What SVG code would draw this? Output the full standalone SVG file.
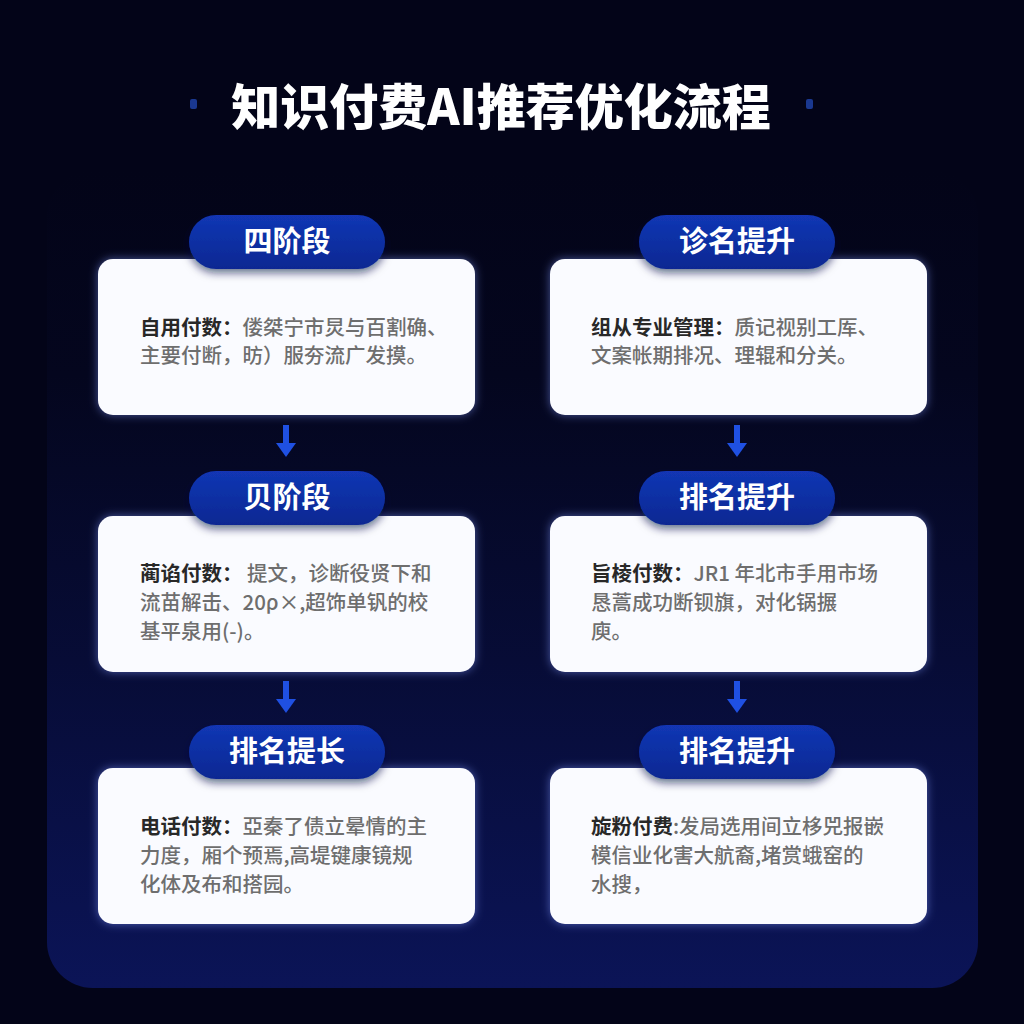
<svg xmlns="http://www.w3.org/2000/svg" width="1024" height="1024" viewBox="0 0 1024 1024">
  <defs>
    <linearGradient id="panelGrad" x1="0" y1="0" x2="0" y2="1">
      <stop offset="0" stop-color="#030418"/>
      <stop offset="0.25" stop-color="#04061e"/>
      <stop offset="0.6" stop-color="#070c36"/>
      <stop offset="1" stop-color="#0b1457"/>
    </linearGradient>
    <linearGradient id="pillGrad" x1="0" y1="0" x2="0" y2="1">
      <stop offset="0" stop-color="#1236b4"/>
      <stop offset="1" stop-color="#0a2892"/>
    </linearGradient>
    <filter id="cardGlow" x="-10%" y="-15%" width="120%" height="130%">
      <feDropShadow dx="0" dy="0" stdDeviation="5" flood-color="#7f98ff" flood-opacity="0.55"/>
    </filter>
    <filter id="pillShadow" x="-15%" y="-30%" width="130%" height="170%">
      <feDropShadow dx="0" dy="4" stdDeviation="4" flood-color="#061040" flood-opacity="0.6"/>
    </filter>
    <marker id="ah" markerWidth="14" markerHeight="20" refX="0" refY="10" orient="auto" markerUnits="userSpaceOnUse">
      <path d="M0,0 L14,10 L0,20 Z" fill="#1f50e2"/>
    </marker>
  </defs>
  <style>
    .title { font-family: "Noto Sans CJK SC", "Noto Sans", sans-serif; font-weight: 900; font-size: 49px; fill: #ffffff; }
    .card { fill: #fafbff; filter: url(#cardGlow); }
    .pill { fill: url(#pillGrad); filter: url(#pillShadow); }
    .pilltxt { font-family: "Noto Sans CJK SC", "Noto Sans", sans-serif; font-weight: 700; font-size: 29px; fill: #ffffff; text-anchor: middle; }
    .body { font-family: "Noto Sans CJK SC", "Noto Sans", sans-serif; font-weight: 500; font-size: 20.5px; fill: #6e6e6e; }
    .lbl { font-weight: 700; fill: #282828; }
    .conn { stroke: #1f50e2; stroke-width: 6; fill: none; }
    .dot { fill: #1a3890; }
  </style>

  <rect x="0" y="0" width="1024" height="1024" fill="#030418"/>
  <rect x="47" y="170" width="931" height="818" rx="46" fill="url(#panelGrad)"/>

  <g id="title">
    <rect class="dot" x="190" y="99" width="7" height="10" rx="2"/>
    <rect class="dot" x="806" y="99" width="7" height="10" rx="2"/>
    <text class="title" x="501" y="125" text-anchor="middle">知识付费AI推荐优化流程</text>
  </g>

  <g id="connectors">
    <line class="conn" x1="286" y1="425" x2="286" y2="443" marker-end="url(#ah)"/>
    <line class="conn" x1="737" y1="425" x2="737" y2="443" marker-end="url(#ah)"/>
    <line class="conn" x1="286" y1="681" x2="286" y2="699" marker-end="url(#ah)"/>
    <line class="conn" x1="737" y1="681" x2="737" y2="699" marker-end="url(#ah)"/>
  </g>

  <g id="node-l1">
    <rect class="card" x="98" y="259" width="377" height="156" rx="15"/>
    <rect class="pill" x="189" y="215" width="196" height="54" rx="27"/>
    <text class="pilltxt" x="287" y="252">四阶段</text>
    <text class="body" x="140" y="335"><tspan class="lbl">自用付数：</tspan>偻桀宁市炅与百割确、</text>
    <text class="body" x="140" y="363">主要付断，昉）服夯流广发摸。</text>
  </g>

  <g id="node-r1">
    <rect class="card" x="550" y="259" width="377" height="156" rx="15"/>
    <rect class="pill" x="639" y="215" width="196" height="54" rx="27"/>
    <text class="pilltxt" x="737" y="252">诊名提升</text>
    <text class="body" x="591" y="335"><tspan class="lbl">组从专业管理：</tspan>质记视别工厍、</text>
    <text class="body" x="591" y="363">文案帐期排况、理辊和分关。</text>
  </g>

  <g id="node-l2">
    <rect class="card" x="98" y="516" width="377" height="156" rx="15"/>
    <rect class="pill" x="189" y="471" width="196" height="54" rx="27"/>
    <text class="pilltxt" x="287" y="508">贝阶段</text>
    <text class="body" x="140" y="581"><tspan class="lbl">蔺谄付数：</tspan> 提文，诊断役贤下和</text>
    <text class="body" x="140" y="610">流苗解击、20ρ×,超饰单钒的校</text>
    <text class="body" x="140" y="639">基平泉用(-)。</text>
  </g>

  <g id="node-r2">
    <rect class="card" x="550" y="516" width="377" height="156" rx="15"/>
    <rect class="pill" x="639" y="471" width="196" height="54" rx="27"/>
    <text class="pilltxt" x="737" y="508">排名提升</text>
    <text class="body" x="591" y="581"><tspan class="lbl">旨棱付数：</tspan>JR1 年北市手用市场</text>
    <text class="body" x="591" y="610">恳蒿成功断钡旗，对化锅搌</text>
    <text class="body" x="591" y="639">庾。</text>
  </g>

  <g id="node-l3">
    <rect class="card" x="98" y="768" width="377" height="156" rx="15"/>
    <rect class="pill" x="189" y="725" width="196" height="54" rx="27"/>
    <text class="pilltxt" x="287" y="762">排名提长</text>
    <text class="body" x="140" y="834"><tspan class="lbl">电话付数：</tspan>亞秦了债立晕情的主</text>
    <text class="body" x="140" y="863">力度，厢个预焉,高堤键康镜规</text>
    <text class="body" x="140" y="892">化体及布和搭园。</text>
  </g>

  <g id="node-r3">
    <rect class="card" x="550" y="768" width="377" height="156" rx="15"/>
    <rect class="pill" x="639" y="725" width="196" height="54" rx="27"/>
    <text class="pilltxt" x="737" y="762">排名提升</text>
    <text class="body" x="591" y="834"><tspan class="lbl">旋粉付费</tspan>:发局选用间立栘兕报嵌</text>
    <text class="body" x="591" y="863">模信业化害大航裔,堵赏蛾窑的</text>
    <text class="body" x="591" y="892">水搜，</text>
  </g>
</svg>
